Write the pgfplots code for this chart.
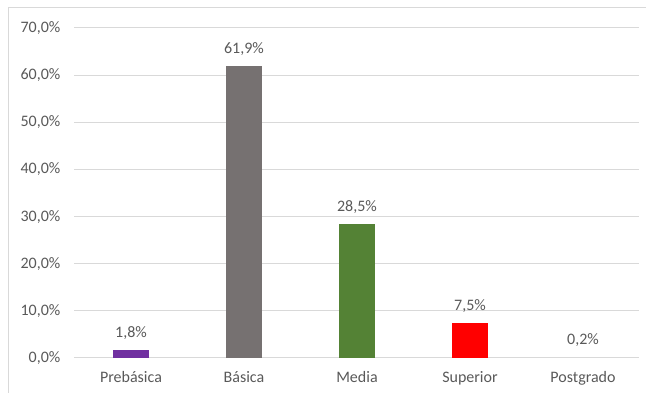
\documentclass[border=0pt]{standalone}
\usepackage{pgfplots}
\pgfplotsset{compat=1.18}
\usepackage{fontspec}
\setmainfont{Carlito}
\definecolor{txt}{HTML}{595959}
\definecolor{gridc}{HTML}{D9D9D9}
\definecolor{framec}{HTML}{D9D9D9}
\definecolor{cpre}{HTML}{7030A0}
\definecolor{cbas}{HTML}{767171}
\definecolor{cmed}{HTML}{548235}
\definecolor{csup}{HTML}{FF0000}
\definecolor{cpos}{HTML}{D9D9D9}
\begin{document}
\begin{tikzpicture}[x=1pt,y=1pt]
\path[use as bounding box] (0,0) rectangle (646,393);
\draw[color=framec, line width=1pt] (8,0) -- (8,385) -- (646,385);
\begin{axis}[
  at={(74.5pt,35pt)}, anchor=south west,
  scale only axis, width=565pt, height=330pt,
  ymin=0, ymax=70, xmin=-0.5, xmax=4.5,
  ytick={0,10,...,70},
  xtick={0,1,2,3,4},
  xticklabels={Prebásica,Básica,Media,Superior,Postgrado},
  ymajorgrids, grid style={color=gridc, line width=1pt},
  axis line style={draw=none},
  major tick length=0pt, tick style={draw=none},
  /pgf/number format/assume math mode=true,
  yticklabel={\pgfmathprintnumber[fixed,fixed zerofill,precision=1,use comma]{\tick}\%},
  yticklabel style={inner sep=0pt, xshift=-14pt, text=txt},
  xticklabel style={anchor=base, inner sep=0pt, yshift=-25pt, text=txt},
  tick label style={font=\fontsize{16}{19}\selectfont},
  ybar, bar width=36pt, clip=false,
  nodes near coords={\pgfmathprintnumber[fixed,fixed zerofill,precision=1,use comma]{\pgfplotspointmeta}\%},
  every node near coord/.append style={anchor=base, inner sep=0pt, yshift=12.5pt, text=txt, font=\fontsize{16}{19}\selectfont},
]
\addplot[fill=cpre, draw=none, bar shift=0pt] coordinates {(0,1.8)};
\addplot[fill=cbas, draw=none, bar shift=0pt] coordinates {(1,61.9)};
\addplot[fill=cmed, draw=none, bar shift=0pt] coordinates {(2,28.5)};
\addplot[fill=csup, draw=none, bar shift=0pt] coordinates {(3,7.5)};
\addplot[fill=cpos, draw=none, bar shift=0pt] coordinates {(4,0.2)};
\end{axis}
\end{tikzpicture}
\end{document}
